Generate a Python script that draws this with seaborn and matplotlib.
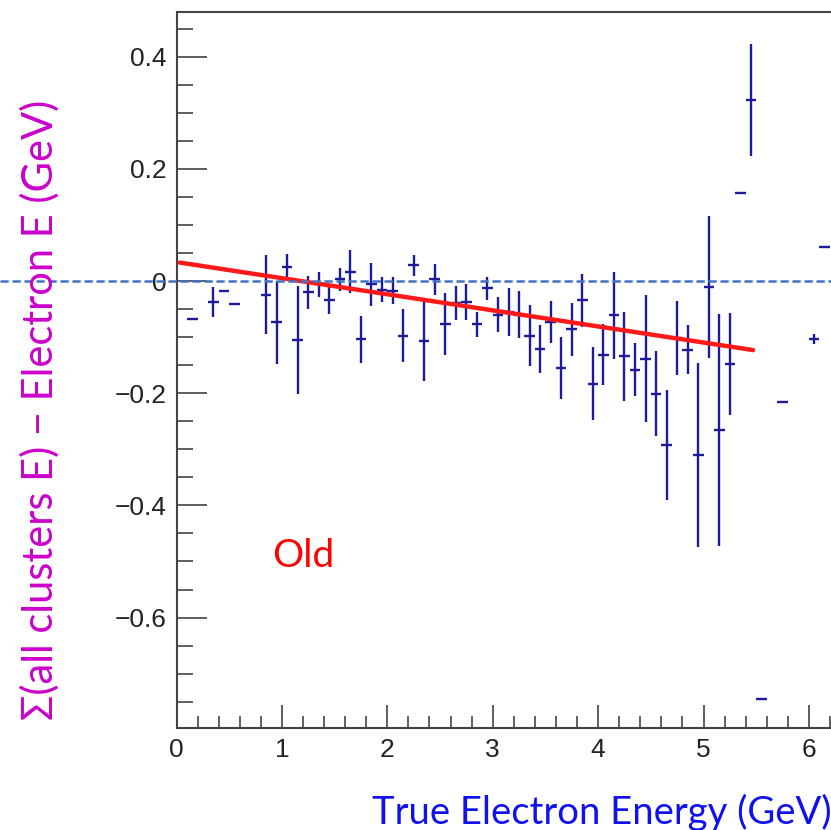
import numpy as np
import pandas as pd
import matplotlib
matplotlib.use('Agg')
import matplotlib.pyplot as plt
from matplotlib.ticker import MultipleLocator, FuncFormatter
import seaborn as sns

# ---- data ----
energy = [0.15, 0.35, 0.45, 0.55, 0.85, 0.95, 1.05, 1.15, 1.25, 1.35,
          1.45, 1.55, 1.65, 1.75, 1.85, 1.95, 2.05, 2.15, 2.25, 2.35,
          2.45, 2.55, 2.65, 2.75, 2.85, 2.95, 3.05, 3.15, 3.25, 3.35,
          3.45, 3.55, 3.65, 3.75, 3.85, 3.95, 4.05, 4.15, 4.25, 4.35,
          4.45, 4.55, 4.65, 4.75, 4.85, 4.95, 5.05, 5.15, 5.25, 5.35,
          5.45, 5.55, 5.75, 6.05, 6.15]
delta = [-0.067, -0.037, -0.017, -0.040, -0.024, -0.073, 0.025, -0.105, -0.020, -0.006,
         -0.034, 0.003, 0.017, -0.104, -0.006, -0.015, -0.017, -0.097, 0.028, -0.107,
         0.003, -0.077, -0.039, -0.037, -0.077, -0.013, -0.060, -0.055, -0.060, -0.097,
         -0.121, -0.073, -0.155, -0.086, -0.034, -0.183, -0.131, -0.061, -0.134, -0.158,
         -0.138, -0.201, -0.293, -0.101, -0.122, -0.310, -0.010, -0.266, -0.148, 0.158,
         0.323, -0.745, -0.215, -0.104, 0.061]
delta_err = [0.0, 0.027, 0.0, 0.0, 0.070, 0.074, 0.023, 0.097, 0.029, 0.022,
             0.024, 0.021, 0.039, 0.042, 0.038, 0.023, 0.024, 0.047, 0.018, 0.071,
             0.027, 0.055, 0.030, 0.032, 0.022, 0.021, 0.031, 0.042, 0.042, 0.055,
             0.042, 0.038, 0.056, 0.047, 0.047, 0.065, 0.054, 0.077, 0.079, 0.047,
             0.114, 0.076, 0.098, 0.066, 0.044, 0.164, 0.127, 0.207, 0.091, 0.0,
             0.100, 0.0, 0.0, 0.009, 0.0]
bin_half_width = 0.05
fit_intercept = 0.034
fit_slope = -0.0287
fit_range = [0.03, 5.47]

x_label = "True Electron Energy (GeV)"
y_label = "\u03a3(all clusters E) \u2212 Electron E (GeV)"
tag_text = "Old"

# ---- style ----
sns.set_theme(style='ticks')
plt.rcParams['font.family'] = ['Liberation Sans', 'DejaVu Sans']

W, H = 831, 830
fig = plt.figure(figsize=(W / 100, H / 100), dpi=100)
ax_left, ax_right, ax_top, ax_bottom = 176.5, 831.0, 12.0, 728.0
ax = fig.add_axes([ax_left / W, (H - ax_bottom) / H,
                   (ax_right - ax_left) / W, (ax_bottom - ax_top) / H])

# data points with error bars
ax.errorbar(energy, delta, yerr=delta_err, xerr=bin_half_width, fmt='none',
            ecolor='#1b1b9c', elinewidth=1.7, capsize=0, zorder=3)

# linear fit
fx = np.array(fit_range)
fit_df = pd.DataFrame({'E': fx, 'fit': fit_intercept + fit_slope * fx})
sns.lineplot(data=fit_df, x='E', y='fit', color='#ff1a1a', linewidth=3.2,
             ax=ax, zorder=4)
ax.set_xlabel('')
ax.set_ylabel('')

# dashed zero line across the whole figure
ax.axhline(0, xmin=-ax_left / (ax_right - ax_left), xmax=1.0, color='#4472c4',
           linewidth=1.8, linestyle=(0, (3.3, 1.5)), clip_on=False, zorder=5)

ax.set_xlim(0, (ax_right - ax_left) / 105.4)
ax.set_ylim(-0.797, 0.48)

ax.xaxis.set_major_locator(MultipleLocator(1))
ax.xaxis.set_minor_locator(MultipleLocator(0.2))
ax.yaxis.set_major_locator(MultipleLocator(0.2))
ax.yaxis.set_minor_locator(MultipleLocator(0.05))

def yfmt(v, p):
    if abs(v) < 1e-9:
        return '0'
    return f'{v:.1f}'.replace('-', '\u2212')

ax.yaxis.set_major_formatter(FuncFormatter(yfmt))
ax.xaxis.set_major_formatter(FuncFormatter(lambda v, p: f'{v:.0f}'))

ax.tick_params(axis='y', which='major', direction='in', length=21.5, width=1.1,
               color='#333333', labelsize=19, labelcolor='#222222', pad=7)
ax.tick_params(axis='y', which='minor', direction='in', length=11.5, width=1.1,
               color='#333333')
ax.tick_params(axis='x', which='major', direction='in', length=16.5, width=1.1,
               color='#333333', labelsize=19, labelcolor='#222222', pad=7)
ax.tick_params(axis='x', which='minor', direction='in', length=8.6, width=1.1,
               color='#333333')

for side in ['left', 'bottom', 'top']:
    ax.spines[side].set_visible(True)
    ax.spines[side].set_linewidth(1.5)
    ax.spines[side].set_color('#444444')
ax.spines['right'].set_visible(False)

# axis titles and annotation
fig.text(40 / W, (H - 410) / H, y_label, rotation=90, ha='center', va='center',
         color='#cc00cc', fontsize=30, family=['Lato', 'DejaVu Sans'])
fig.text(372 / W, (H - 812) / H, x_label, ha='left', va='center',
         color='#1010f0', fontsize=27.5, family=['Lato', 'DejaVu Sans'])
fig.text(272 / W, (H - 567) / H, tag_text, ha='left', va='baseline',
         color='#ff0000', fontsize=28, family=['Lato', 'DejaVu Sans'])

fig.savefig('out.png', dpi=100)
